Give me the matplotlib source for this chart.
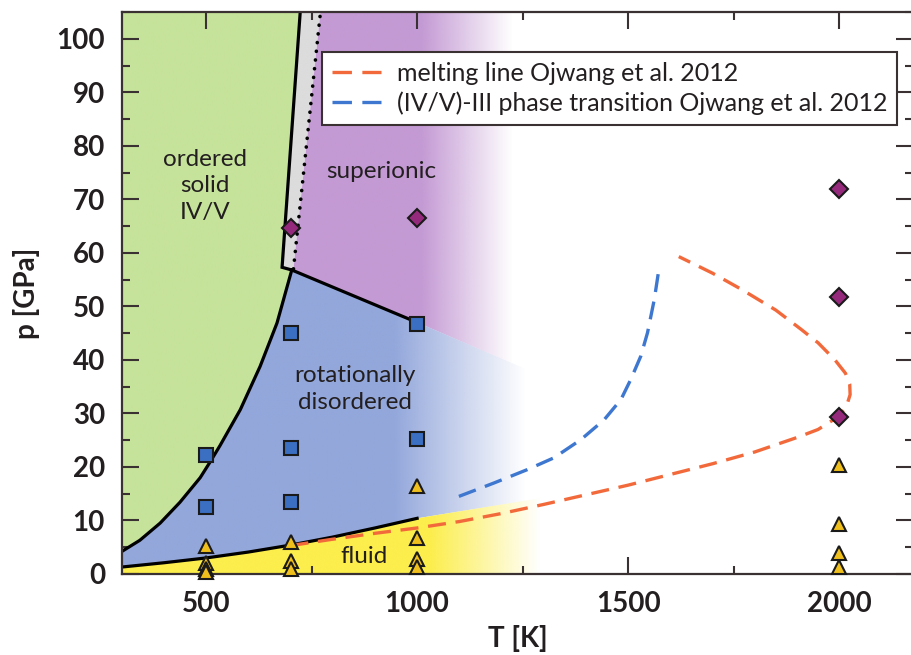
import numpy as np
import matplotlib
matplotlib.use('Agg')
import matplotlib.pyplot as plt
from matplotlib.patches import Polygon
from matplotlib.colors import to_rgb
from matplotlib.ticker import MultipleLocator

plt.rcParams['font.family'] = ['Lato', 'DejaVu Sans']
plt.rcParams['lines.scale_dashes'] = False

# ---------------- data ----------------
# phase boundaries (T in K, p in GPa)
solid_T = [300, 343, 391, 438, 486, 510, 533, 581, 628, 668, 703]
solid_p = [4.2, 6.3, 9.5, 13.4, 18.0, 21.0, 24.0, 30.7, 38.8, 46.9, 56.8]
fluid_T = [300, 400, 500, 600, 700, 800, 900, 1000]
fluid_p = [1.3, 2.1, 3.0, 4.1, 5.4, 6.9, 8.6, 10.4]
fluid_ext_T = [1000, 1450]
fluid_ext_p = [10.4, 16.2]
super_T = [703, 1000]
super_p = [56.8, 47.0]
super_ext_T = [1000, 1450]
super_ext_p = [47.0, 31.8]
ivv_T = [703, 680, 723]
ivv_p = [56.8, 57.3, 105.0]
dot_T = [707, 771]
dot_p = [57.0, 105.0]

# Ojwang et al. 2012
melt_T = [700, 800, 900, 1000, 1100, 1200, 1300, 1400, 1500, 1600, 1700, 1800,
          1900, 1950, 2000, 2018, 2026, 2025, 2015, 1990, 1950, 1910, 1850,
          1768, 1700, 1620]
melt_p = [5.3, 6.5, 7.6, 8.6, 9.8, 11.3, 13.0, 14.8, 16.6, 18.6, 20.6, 22.8,
          25.5, 27.0, 29.5, 31.5, 33.5, 35.5, 37.5, 40.0, 43.2, 45.7, 49.3,
          53.2, 56.2, 59.3]
trans_T = [1099, 1182, 1261, 1324, 1388, 1443, 1483, 1506, 1530, 1546, 1562, 1574]
trans_p = [14.5, 17.0, 19.5, 21.7, 25.1, 28.8, 32.6, 36.3, 40.7, 45.1, 51.3, 57.5]

# simulation points
sq_T = [500, 500, 700, 700, 700, 1000, 1000]
sq_p = [22.3, 12.6, 45.1, 23.5, 13.5, 46.8, 25.2]
di_T = [700, 1000, 2000, 2000, 2000]
di_p = [64.7, 66.5, 71.9, 51.8, 29.4]
tr_T = [500, 500, 500, 500, 700, 700, 700, 1000, 1000, 1000, 1000, 2000, 2000, 2000, 2000]
tr_p = [5.3, 2.0, 1.0, 0.4, 6.0, 2.5, 1.0, 16.5, 6.7, 2.8, 1.4, 20.4, 9.4, 4.0, 1.4]

xticks = [500, 1000, 1500, 2000]
yticks = [0, 10, 20, 30, 40, 50, 60, 70, 80, 90, 100]

# ---------------- figure ----------------
fig = plt.figure(figsize=(9.12, 6.55), dpi=100)
ax = fig.add_axes([121.7 / 912, 81 / 655, (913 - 121.7) / 912, 562 / 655])
XMIN, XMAX, YMIN, YMAX = 300, 2175, 0, 105
spine_col = '#3a3232'
txt_col = '#231f20'
melt_col = '#f26a3b'
trans_col = '#3e77cf'
dash = (0, (13, 7))


def grad_fill(T, p, color, t0, t1):
    pts = np.column_stack([T, p])
    poly = Polygon(pts, closed=True, facecolor='none', edgecolor='none')
    ax.add_patch(poly)
    xs = np.linspace(min(T), max(T), 600)
    alpha = np.clip((t1 - xs) / (t1 - t0), 0, 1)
    rgba = np.zeros((1, len(xs), 4))
    rgba[..., :3] = to_rgb(color)
    rgba[..., 3] = alpha
    im = ax.imshow(rgba, extent=[min(T), max(T), min(p), max(p)], aspect='auto',
                   origin='lower', interpolation='bilinear', zorder=0)
    im.set_clip_path(poly)


# green: ordered solid
gT = solid_T + [680, 723, 300]
gp = solid_p + [57.3, 105, 105]
grad_fill(gT, gp, '#c6e39b', 5000, 6000)
# grey band
grad_fill([680, 723, 771, 707], [57.3, 105, 105, 57.0], '#dcdcdc', 5000, 6000)
# purple: superionic
grad_fill([707, 771, 1450, 1450, 1000, 703], [57, 105, 105, 31.8, 47, 56.8], '#c49ad4', 1010, 1225)
# blue: rotationally disordered
bT = fluid_T + [fluid_ext_T[1], super_ext_T[1]] + super_T[::-1] + solid_T[::-1][1:]
bp = fluid_p + [fluid_ext_p[1], super_ext_p[1]] + super_p[::-1] + solid_p[::-1][1:]
grad_fill(bT, bp, '#93a7db', 945, 1255)
# yellow: fluid
yT = [300] + fluid_T + [fluid_ext_T[1], fluid_ext_T[1]]
yp = [0] + fluid_p + [fluid_ext_p[1], 0]
grad_fill(yT, yp, '#fcee4c', 1030, 1290)

# boundaries
lw = 2.3
ax.plot(solid_T, solid_p, color='black', lw=lw, zorder=2)
ax.plot(fluid_T, fluid_p, color='black', lw=lw, zorder=2)
ax.plot(super_T, super_p, color='black', lw=lw, zorder=2)
ax.plot(ivv_T, ivv_p, color='black', lw=lw, zorder=2, solid_joinstyle='miter')
ax.plot(dot_T, dot_p, color='black', lw=2.6, linestyle=(0, (0.1, 6.2)),
        dash_capstyle='round', zorder=2)

# Ojwang lines
ax.plot(melt_T, melt_p, color=melt_col, lw=2.4, linestyle=dash, zorder=3)
ax.plot(trans_T, trans_p, color=trans_col, lw=2.4, linestyle=dash, zorder=3)

# markers
ax.plot(sq_T, sq_p, linestyle='none', marker='s', ms=10, mfc='#3b6fc2', mec='#1a1a1a',
        mew=1.5, zorder=4, clip_on=False)
ax.plot(di_T, di_p, linestyle='none', marker='D', ms=8.8, mfc='#952a7c', mec='#1a1a1a',
        mew=1.5, zorder=4, clip_on=False)
ax.plot(tr_T, tr_p, linestyle='none', marker='^', ms=10.5, mfc='#efbf1e', mec='#1a1a1a',
        mew=1.5, zorder=4, clip_on=False)

# region labels
lab_kw = dict(fontsize=17.5, color=txt_col, ha='center', va='center', zorder=5,
              linespacing=1.35)
ax.text(498, 72.5, 'ordered\nsolid\nIV/V', **lab_kw)
ax.text(916, 75.2, 'superionic', **lab_kw)
ax.text(852, 34.6, 'rotationally\ndisordered', **lab_kw)
ax.text(873, 3.2, 'fluid', **lab_kw)

# legend (proxy handles with the legend's dash look)
h1 = plt.Line2D([], [], color=melt_col, lw=2.4, linestyle=(0, (14, 7.5)))
h2 = plt.Line2D([], [], color=trans_col, lw=2.4, linestyle=(0, (14, 7.5)))
leg = ax.legend([h1, h2], ['melting line Ojwang et al. 2012',
                           '(IV/V)-III phase transition Ojwang et al. 2012'],
                loc='upper left', bbox_to_anchor=(0.253, 0.929),
                borderaxespad=0, fontsize=18, frameon=True, fancybox=False,
                framealpha=1, edgecolor=spine_col, handlelength=1.95,
                handletextpad=0.65, borderpad=0.4, labelspacing=0.25)
leg.get_frame().set_linewidth(1.5)
leg.set_zorder(6)
for t in leg.get_texts():
    t.set_color(txt_col)

# axes styling
ax.set_xlim(XMIN, XMAX)
ax.set_ylim(YMIN, YMAX)
ax.set_xticks(xticks)
ax.set_yticks(yticks)
ax.xaxis.set_minor_locator(MultipleLocator(250))
ax.yaxis.set_minor_locator(MultipleLocator(5))
ax.tick_params(which='both', direction='in', top=True, right=True, color=spine_col,
               width=1.5)
ax.tick_params(which='major', length=12, labelsize=20, pad=12, labelcolor=txt_col)
ax.tick_params(which='minor', length=5.5)
for lab in ax.get_xticklabels() + ax.get_yticklabels():
    lab.set_fontweight('bold')
for s in ax.spines.values():
    s.set_color(spine_col)
    s.set_linewidth(1.6)
ax.set_xlabel('T [K]', fontsize=20, fontweight='bold', color=txt_col, labelpad=6)
ax.set_ylabel('p [GPa]', fontsize=20, fontweight='bold', color=txt_col, labelpad=12)

fig.savefig('out.png', dpi=100)
